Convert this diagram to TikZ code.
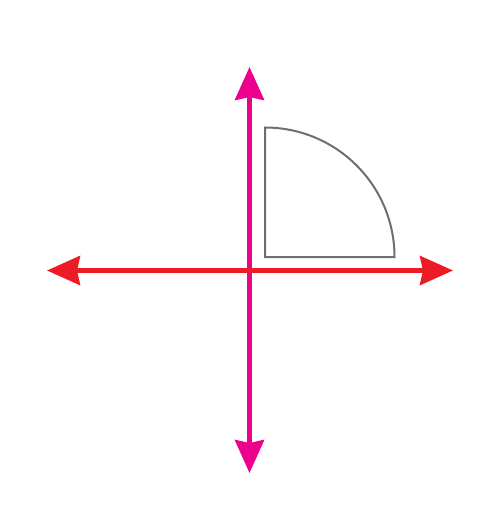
\documentclass[tikz,border=0pt]{standalone}
\usetikzlibrary{arrows.meta}
\definecolor{axred}{HTML}{ED1C24}
\definecolor{axmag}{HTML}{EC008C}
\definecolor{shgray}{HTML}{6D6E71}
\begin{document}
\begin{tikzpicture}[x=1pt,y=-1pt,
  axis/.style={line width=4.5pt,{Stealth[length=33pt,width=29pt,inset=3pt]}-{Stealth[length=33pt,width=29pt,inset=3pt]}},
  quarter/.style={draw=shgray,line width=2pt,line join=miter}]
\useasboundingbox (0,0) rectangle (500,512);
\coordinate (L) at (47,270.5);
\coordinate (R) at (453,270.5);
\coordinate (T) at (249.5,67);
\coordinate (B) at (249.5,473);
\coordinate (C) at (265,257);
\draw[axis,axmag] (T) -- (B);
\draw[axis,axred] (L) -- (R);
\draw[quarter] (C) -- ++(0,-129.5) arc[start angle=90,end angle=0,radius=129.5pt] -- cycle;
\end{tikzpicture}
\end{document}
